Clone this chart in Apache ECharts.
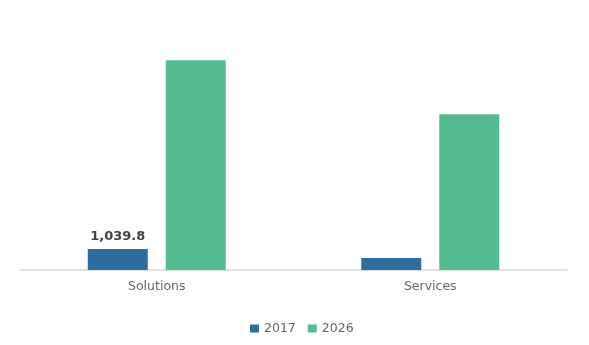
<!DOCTYPE html>
<html>
<head>
<meta charset="utf-8">
<script src="https://cdn.jsdelivr.net/npm/echarts@6/dist/echarts.min.js"></script>
<style>
  html, body { margin: 0; padding: 0; background: #fff; }
  #chart { width: 589px; height: 345px; }
</style>
</head>
<body>
<div id="chart"></div>
<script>
// Market size by segment
const categories = ['Solutions', 'Services'];
const years = ['2017', '2026'];
const values2017 = [1039.8, 594];
const values2026 = [10400, 7720];
const labelled2017 = ['1,039.8', ''];

const chart = echarts.init(document.getElementById('chart'));
chart.setOption({
  animation: false,
  textStyle: { fontFamily: 'DejaVu Sans' },
  legend: {
    data: years,
    top: 317,
    left: 245,
    itemWidth: 9,
    itemHeight: 8,
    itemGap: 12,
    icon: 'rect',
    textStyle: { color: '#666', fontSize: 12.5 }
  },
  grid: { left: 20, right: 22, top: 28, bottom: 75 },
  xAxis: {
    type: 'category',
    data: categories,
    axisLine: { lineStyle: { color: '#d9d9d9', width: 1.5 } },
    axisTick: { show: false },
    axisLabel: { color: '#666', fontSize: 12.5, margin: 10 }
  },
  yAxis: {
    type: 'value',
    min: 0,
    max: 12000,
    show: false,
    splitLine: { show: false }
  },
  series: [
    {
      name: years[0],
      type: 'bar',
      data: values2017,
      barWidth: 60,
      barGap: '30%',
      itemStyle: { color: '#2e6e9e' },
      label: {
        show: true,
        position: 'top',
        distance: 6,
        color: '#404040',
        fontWeight: 'bold',
        fontSize: 13,
        formatter: p => labelled2017[p.dataIndex]
      }
    },
    {
      name: years[1],
      type: 'bar',
      data: values2026,
      barWidth: 60,
      itemStyle: { color: '#55bc92' }
    }
  ]
});
</script>
</body>
</html>
